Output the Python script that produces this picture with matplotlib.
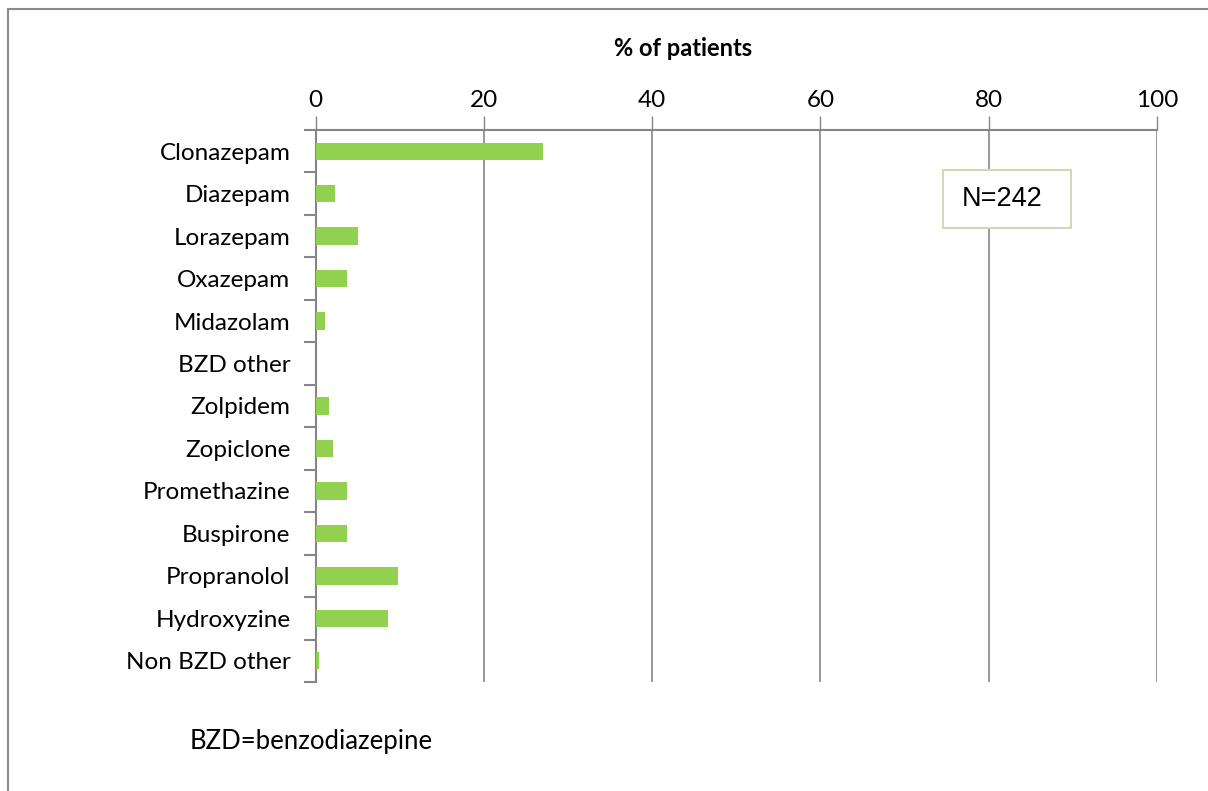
import matplotlib
matplotlib.use("Agg")
import matplotlib.pyplot as plt
from matplotlib.patches import Rectangle
import numpy as np

drugs = ["Clonazepam", "Diazepam", "Lorazepam", "Oxazepam", "Midazolam",
         "BZD other", "Zolpidem", "Zopiclone", "Promethazine", "Buspirone",
         "Propranolol", "Hydroxyzine", "Non BZD other"]
pct_patients = [27.0, 2.3, 5.0, 3.7, 1.1, 0.0, 1.6, 2.1, 3.7, 3.7, 9.8, 8.6, 0.4]
x_ticks = [0, 20, 40, 60, 80, 100]

GRID = "#868686"
GREEN = "#92D050"
LABEL_FONT = ["Lato", "DejaVu Sans"]
W, H = 1208, 791

fig = plt.figure(figsize=(W / 100, H / 100), dpi=100)
fig.patch.set_facecolor("white")

# outer chart frame
fig.patches.append(Rectangle((8 / W, -0.1), 1.2, 1 - 9 / H + 0.1,
                             transform=fig.transFigure, fill=False,
                             edgecolor="#8a8a8a", linewidth=1.5))

ax = fig.add_axes([315.5 / W, 1 - 682 / H, (1157 - 315.5) / W, (682 - 130) / H])

y = np.arange(len(drugs))
ax.barh(y, pct_patients, height=0.41, color=GREEN, zorder=3)

ax.set_xlim(0, 100)
ax.set_ylim(len(drugs) - 0.5, -0.5)

ax.xaxis.set_ticks_position("top")
ax.set_xticks(x_ticks)
ax.set_xticklabels([str(t) for t in x_ticks], fontsize=17.5, family=LABEL_FONT)
ax.tick_params(axis="x", direction="out", length=10, width=1, color=GRID, pad=4)

fig.text(683 / W, 1 - 48 / H, "% of patients", fontsize=17, fontweight="bold",
         family=LABEL_FONT, ha="center", va="center")

ax.set_yticks(y)
ax.set_yticklabels(drugs, fontsize=17.5, family=LABEL_FONT)
ax.set_yticks(np.arange(len(drugs) + 1) - 0.5, minor=True)
ax.tick_params(axis="y", which="major", length=0, pad=18)
ax.tick_params(axis="y", which="minor", direction="out", length=9, width=1.5, color=GRID)

for xv in x_ticks[1:]:
    ax.axvline(xv, color=GRID, linewidth=1.2, zorder=1)

for side in ["bottom", "right"]:
    ax.spines[side].set_visible(False)
for side in ["top", "left"]:
    ax.spines[side].set_color(GRID)
    ax.spines[side].set_linewidth(1.5)

# sample size box
fig.patches.append(Rectangle((943 / W, 1 - 228 / H), 128 / W, 58 / H,
                             transform=fig.transFigure, facecolor="white",
                             edgecolor="#D8D4B8", linewidth=1.5, zorder=5))
fig.text(1002 / W, 1 - 199 / H, "N=242", fontsize=19.5,
         family=["Liberation Sans", "DejaVu Sans"], ha="center", va="center", zorder=6)

fig.text(190 / W, 1 - 741 / H, "BZD=benzodiazepine", fontsize=18.5,
         family=LABEL_FONT, ha="left", va="center")

fig.savefig("out.png", dpi=100, facecolor="white")
